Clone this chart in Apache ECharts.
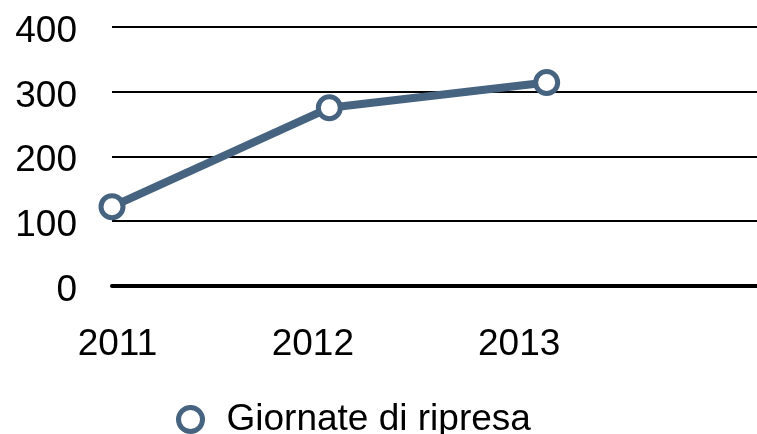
<!DOCTYPE html>
<html>
<head>
<meta charset="utf-8">
<script src="https://cdn.jsdelivr.net/npm/echarts@6/dist/echarts.min.js"></script>
<style>
  html, body { margin: 0; padding: 0; background: #fff; }
  #chart { width: 757px; height: 434px; }
</style>
</head>
<body>
<div id="chart"></div>
<script>
// 数据
const years = ['2011', '2012', '2013', '']
const giornate = [122, 275, 314]
const yTicks = [0, 100, 200, 300, 400]

// x 轴标签的水平偏移 (原图标签与点位不对齐)
const labelShift = [
  [0, 0, 0, 11],
  [0, 33, 0, 0],
  [0, 55, 0, 0],
  [0, 0, 0, 0]
]

const FONT = '"Liberation Sans", Arial, Helvetica, sans-serif'
const lineColor = '#466480'

const chart = echarts.init(document.getElementById('chart'))

const rich = {}
labelShift.forEach((p, i) => {
  rich['l' + i] = { fontSize: 37, fontFamily: FONT, color: '#000', padding: p }
})

chart.setOption({
  animation: false,
  grid: { left: 112, width: 652, top: 27, bottom: 148.5, outerBoundsMode: 'none', containLabel: false },
  xAxis: {
    type: 'category',
    data: years,
    boundaryGap: false,
    axisLine: { show: true, lineStyle: { color: '#000', width: 4 } },
    axisTick: { show: false },
    axisLabel: {
      margin: 41,
      fontSize: 37,
      fontFamily: FONT,
      color: '#000',
      formatter: (v, i) => v ? `{l${i}|${v}}` : '',
      rich: rich
    },
    splitLine: { show: false }
  },
  yAxis: {
    type: 'value',
    min: yTicks[0],
    max: yTicks[yTicks.length - 1],
    interval: 100,
    axisLine: { show: false },
    axisTick: { show: false },
    axisLabel: {
      margin: 35,
      color: '#000',
      formatter: '{v|{value}}',
      rich: { v: { fontSize: 37, fontFamily: FONT, color: '#000', padding: [10, 0, 0, 0] } }
    },
    splitLine: { lineStyle: { color: '#000', width: 2 } }
  },
  legend: {
    left: 171,
    top: 396,
    icon: 'circle',
    itemWidth: 24,
    itemHeight: 24,
    itemStyle: { color: '#fff', borderColor: lineColor, borderWidth: 5 },
    textStyle: { fontSize: 37, fontFamily: FONT, color: '#000', padding: [0, 0, 0, 19] },
    data: ['Giornate di ripresa']
  },
  series: [{
    name: 'Giornate di ripresa',
    type: 'line',
    data: giornate,
    symbol: 'circle',
    symbolSize: 22,
    lineStyle: { color: lineColor, width: 8 },
    itemStyle: { color: '#fff', borderColor: lineColor, borderWidth: 5 }
  }]
})
</script>
</body>
</html>
